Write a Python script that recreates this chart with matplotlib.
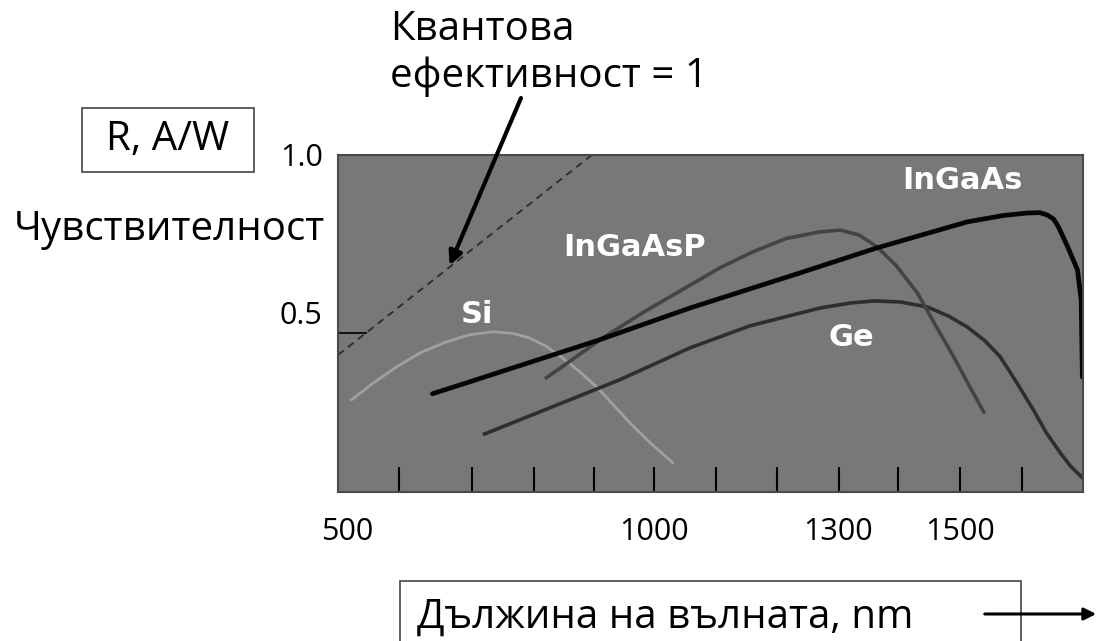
import matplotlib
matplotlib.use("Agg")
import matplotlib.pyplot as plt
from matplotlib.patches import Rectangle, FancyArrowPatch

# wavelength (nm) / responsivity (A/W) points for each detector
si_nm = [507, 543, 580, 620, 662, 700, 737, 770, 797, 825, 851, 880, 907, 935, 961, 995, 1031]
si_r = [0.312, 0.360, 0.404, 0.445, 0.475, 0.495, 0.503, 0.499, 0.486, 0.462,
        0.430, 0.390, 0.348, 0.296, 0.247, 0.190, 0.135]

ge_nm = [724, 944, 1059, 1157, 1271, 1320, 1360, 1402, 1446, 1480, 1511, 1540,
         1565, 1592, 1619, 1640, 1663, 1680, 1699]
ge_r = [0.216, 0.368, 0.458, 0.520, 0.570, 0.584, 0.590, 0.587, 0.573, 0.548,
        0.517, 0.478, 0.433, 0.360, 0.284, 0.220, 0.163, 0.125, 0.093]

ingaasp_nm = [825, 917, 985, 1054, 1110, 1162, 1215, 1271, 1304, 1335, 1364,
              1395, 1430, 1460, 1489, 1515, 1538]
ingaasp_r = [0.374, 0.486, 0.560, 0.629, 0.685, 0.728, 0.765, 0.784, 0.789, 0.775,
             0.742, 0.690, 0.612, 0.520, 0.433, 0.350, 0.278]

ingaas_nm = [639, 704, 907, 1059, 1239, 1364, 1511, 1570, 1609, 1630, 1642, 1652,
             1660, 1675, 1691, 1697, 1699]
ingaas_r = [0.329, 0.365, 0.478, 0.570, 0.669, 0.739, 0.812, 0.830, 0.837, 0.838,
            0.831, 0.820, 0.798, 0.742, 0.677, 0.593, 0.376]

# ideal detector, quantum efficiency = 1
qe_nm = [485, 899]
qe_r = [0.438, 1.0]

tick_marks = [585, 703, 804, 902, 1000, 1101, 1201, 1302, 1399, 1500, 1600]
x_labels = [500, 1000, 1300, 1500]

W, H = 1097, 641
fig = plt.figure(figsize=(W / 100, H / 100), dpi=100)
fig.patch.set_facecolor("white")

def fx(px):
    return px / W

def fy(py):
    return 1 - py / H

ax = fig.add_axes([fx(338), fy(492), fx(1083) - fx(338), fy(155) - fy(492)])
ax.set_facecolor("#787878")
ax.set_xlim(485, 1700)
ax.set_ylim(0.053, 1.0)
for s in ax.spines.values():
    s.set_color("#4a4a4a")
    s.set_linewidth(1.5)

txt_font = ["Open Sans", "DejaVu Sans"]

ax.plot(qe_nm, qe_r, color="#2b2b2b", lw=1.3, ls=(0, (4, 3)))
ax.plot(si_nm, si_r, color="#a0a0a0", lw=2, solid_joinstyle="round")
ax.plot(ge_nm, ge_r, color="#2e2e2e", lw=2.6, solid_joinstyle="round")
ax.plot(ingaasp_nm, ingaasp_r, color="#444444", lw=2.6, solid_joinstyle="round")
ax.plot(ingaas_nm, ingaas_r, color="#050505", lw=3.4, solid_joinstyle="round",
        solid_capstyle="round")

lbl = dict(color="white", fontsize=22, fontweight="bold", family="DejaVu Sans",
           ha="center", va="center")
ax.text(712, 0.551, "Si", **lbl)
ax.text(969, 0.739, "InGaAsP", **lbl)
ax.text(1503, 0.927, "InGaAs", **lbl)
ax.text(1322, 0.486, "Ge", **lbl)

# x axis: tick marks inside, labels only on a few wavelengths
ax.set_xticks(tick_marks, minor=True)
ax.set_xticks(x_labels)
ax.set_xticklabels([str(v) for v in x_labels], family=txt_font, fontsize=22)
ax.xaxis.remove_overlapping_locs = False
ax.tick_params(axis="x", which="minor", direction="in", length=18, width=1.5,
               color="black")
ax.tick_params(axis="x", which="major", length=0, pad=18)

ax.set_yticks([0.5])
ax.set_yticklabels([])
ax.tick_params(axis="y", direction="in", length=21, width=1.2, color="black")
ytr = ax.get_yaxis_transform()
ax.annotate("0.5", xy=(0, 0.5), xycoords=ytr, xytext=(-11, 12),
            textcoords="offset points", ha="right", va="center",
            family=txt_font, fontsize=22)
ax.annotate("1.0", xy=(0, 1.0), xycoords=ytr, xytext=(-11, -2),
            textcoords="offset points", ha="right", va="center",
            family=txt_font, fontsize=22)

# pointer to the ideal-detector line
ax.annotate("", xy=(667, 0.69), xycoords="data",
            xytext=(fx(521), fy(98)), textcoords="figure fraction",
            arrowprops=dict(arrowstyle="-|>", lw=3, color="black",
                            mutation_scale=20, shrinkA=0, shrinkB=0))

fig.text(fx(390), fy(30), "Квантова", family=txt_font, fontsize=29,
         ha="left", va="center")
fig.text(fx(390), fy(77), "ефективност = 1", family=txt_font, fontsize=29,
         ha="left", va="center")
fig.text(fx(325), fy(230), "Чувствителност", family=txt_font, fontsize=29,
         ha="right", va="center")

# boxed axis captions
fig.add_artist(Rectangle((fx(82), fy(172)), fx(254) - fx(82), fy(108) - fy(172),
                         transform=fig.transFigure, fill=False,
                         edgecolor="#555555", lw=1.3))
fig.text(fx(168), fy(140), "R, A/W", family=txt_font, fontsize=29,
         ha="center", va="center")

fig.add_artist(Rectangle((fx(400), fy(660)), fx(1021) - fx(400), fy(581) - fy(660),
                         transform=fig.transFigure, fill=False,
                         edgecolor="#555555", lw=1.3))
fig.text(fx(417), fy(617), "Дължина на вълната, nm", family=txt_font,
         fontsize=29, ha="left", va="center")
fig.add_artist(FancyArrowPatch((fx(982), fy(614)), (fx(1099), fy(614)),
                               transform=fig.transFigure, arrowstyle="-|>",
                               mutation_scale=18, lw=2.2, color="black"))

fig.savefig("out.png", dpi=100)
